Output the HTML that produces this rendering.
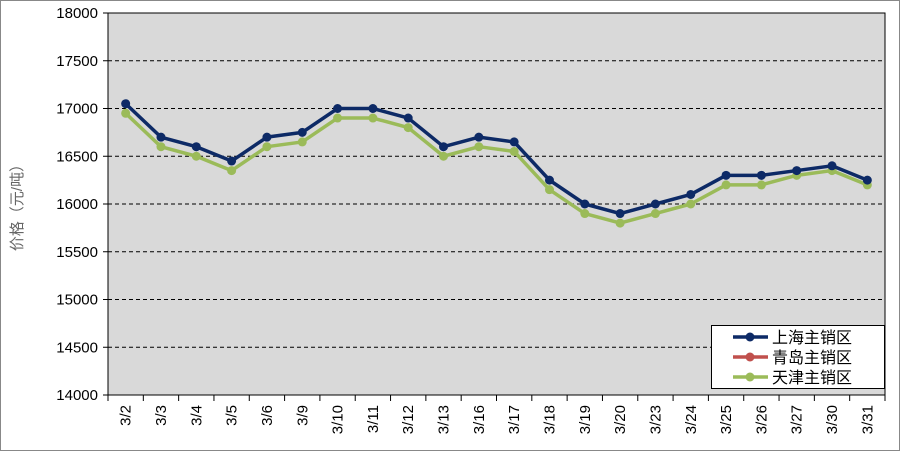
<!DOCTYPE html>
<html><head><meta charset="utf-8"><style>
html,body{margin:0;padding:0;background:#fff;}
svg{display:block;font-family:"Liberation Sans","Noto Sans CJK SC",sans-serif;}
</style></head><body>
<svg id="c" width="900" height="451" xmlns="http://www.w3.org/2000/svg"></svg>
<script>
const s=document.getElementById('c');
const L=108,T=13,R=885,B=395;
const cats=["3/2","3/3","3/4","3/5","3/6","3/9","3/10","3/11","3/12","3/13","3/16","3/17","3/18","3/19","3/20","3/23","3/24","3/25","3/26","3/27","3/30","3/31"];
const blue=[17050,16700,16600,16450,16700,16750,17000,17000,16900,16600,16700,16650,16250,16000,15900,16000,16100,16300,16300,16350,16400,16250];
const green=[16950,16600,16500,16350,16600,16650,16900,16900,16800,16500,16600,16550,16150,15900,15800,15900,16000,16200,16200,16300,16350,16200];
const w=(R-L)/cats.length;
const X=i=>L+w*(i+0.5), Y=v=>B-(v-14000)/4000*(B-T);
let h='<rect x="0.5" y="0.5" width="899" height="450" fill="#fff" stroke="#888"/>';
h+=`<rect x="${L}" y="${T}" width="${R-L}" height="${B-T}" fill="#d9d9d9" stroke="#000" stroke-width="1"/>`;
for(let v=14000;v<=18000;v+=500){const y=Y(v);
 if(v>14000&&v<18000)h+=`<line x1="${L}" x2="${R}" y1="${y}" y2="${y}" stroke="#000" stroke-dasharray="4,3" stroke-width="1"/>`;
 h+=`<line x1="${L-5}" x2="${L}" y1="${y}" y2="${y}" stroke="#000"/>`;
 h+=`<text x="${L-10}" y="${y+5}" text-anchor="end" font-size="15" fill="#000">${v}</text>`;}
for(let i=0;i<=cats.length;i++){const x=L+w*i;h+=`<line x1="${x}" x2="${x}" y1="${B}" y2="${B+6}" stroke="#000"/>`;}
cats.forEach((c,i)=>{h+=`<text transform="translate(${X(i)+5},${B+10}) rotate(-90)" text-anchor="end" font-size="15" fill="#000">${c}</text>`;});
h+=`<text transform="translate(22,204) rotate(-90)" text-anchor="middle" font-size="15" fill="#666">价格（元/吨）</text>`;
function ser(d,col){let p=d.map((v,i)=>`${X(i)},${Y(v)}`).join(' ');
 let r=`<polyline points="${p}" fill="none" stroke="${col}" stroke-width="3.5" stroke-linejoin="round"/>`;
 d.forEach((v,i)=>r+=`<circle cx="${X(i)}" cy="${Y(v)}" r="4.5" fill="${col}"/>`);return r;}
h+=ser(green,'#9bbb59');h+=ser(blue,'#0d2a66');
h+=`<rect x="711.5" y="325.5" width="173" height="63" fill="#fff" stroke="#000"/>`;
[["#0d2a66","上海主销区"],["#c0504d","青岛主销区"],["#9bbb59","天津主销区"]].forEach((a,i)=>{const y=337+i*20;
 h+=`<line x1="733" x2="768" y1="${y}" y2="${y}" stroke="${a[0]}" stroke-width="3.5"/><circle cx="750" cy="${y}" r="4.5" fill="${a[0]}"/>`;
 h+=`<text x="772" y="${y+6}" font-size="16" fill="#000">${a[1]}</text>`;});
s.innerHTML=h;
</script>
</body></html>
